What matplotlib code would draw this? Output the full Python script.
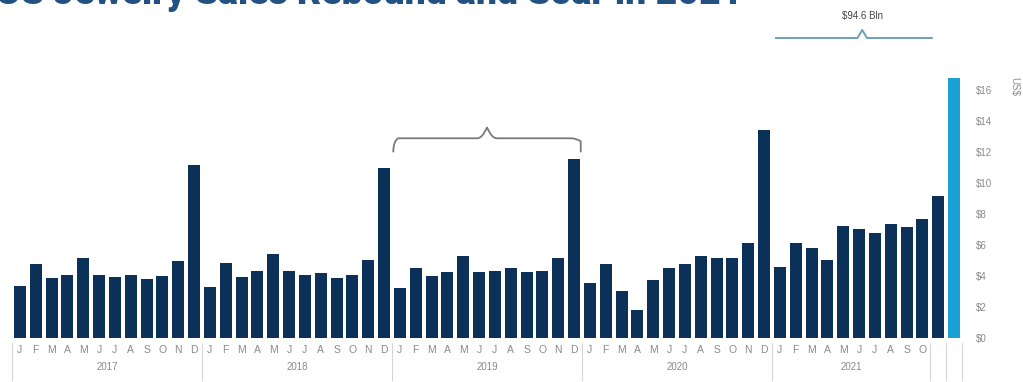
import matplotlib
matplotlib.use("Agg")
import matplotlib.pyplot as plt
from matplotlib.transforms import blended_transform_factory
from matplotlib.path import Path
from matplotlib.patches import PathPatch

# monthly US jewelry sales, US$ Bln (Jan 2017 - Oct 2021)
sales_2017 = [3.35, 4.75, 3.85, 4.1, 5.15, 4.1, 3.95, 4.1, 3.8, 4.0, 4.95, 11.2]
sales_2018 = [3.3, 4.85, 3.95, 4.3, 5.4, 4.35, 4.1, 4.2, 3.85, 4.1, 5.05, 11.0]
sales_2019 = [3.2, 4.5, 4.0, 4.25, 5.3, 4.25, 4.3, 4.5, 4.25, 4.3, 5.15, 11.55]
sales_2020 = [3.55, 4.75, 3.05, 1.8, 3.75, 4.5, 4.75, 5.3, 5.15, 5.15, 6.15, 13.45]
sales_2021 = [4.6, 6.15, 5.8, 5.05, 7.25, 7.05, 6.8, 7.35, 7.2, 7.7]
extra_bar = 9.15          # unlabeled slot after Oct 2021
total_2021 = 94.6         # highlighted total bar, off the scale
months = ["J", "F", "M", "A", "M", "J", "J", "A", "S", "O", "N", "D"]
years = ["2017", "2018", "2019", "2020", "2021"]
yticks = [0, 2, 4, 6, 8, 10, 12, 14, 16]

NAVY = "#0b3159"
BLUE = "#1aa2d6"
GREY = "#8a8a8a"

monthly = sales_2017 + sales_2018 + sales_2019 + sales_2020 + sales_2021
n = len(monthly)

fig = plt.figure(figsize=(10.23, 3.82), dpi=100)
ax = fig.add_axes([12 / 1023, 1 - 338 / 382, 950 / 1023, 260 / 382])

ax.bar(range(n), monthly, width=0.76, color=NAVY)
ax.bar([n], [extra_bar], width=0.76, color=NAVY)
ax.bar([n + 1], [total_2021], width=0.76, color=BLUE)

ax.set_xlim(-0.5, n + 1.5)
ax.set_ylim(0, 16.8)

for s in ax.spines.values():
    s.set_visible(False)

# month letters
labels = (months * 5)[:n]
ax.set_xticks(range(n))
ax.set_xticklabels(labels, fontsize=7.5, color=GREY, family="Liberation Sans")
ax.tick_params(axis="x", length=0, pad=5)

# right hand dollar axis
ax.yaxis.tick_right()
ax.set_yticks(yticks)
ax.set_yticklabels([f"${v}" for v in yticks], fontsize=7, color=GREY, family="Liberation Sans")
ax.tick_params(axis="y", length=0, pad=10)
fig.text(1014 / 1023, 1 - 77 / 382, "US$", rotation=270, ha="center", va="top",
         fontsize=7, color=GREY, family="Liberation Sans")

# year labels and separators
bt = blended_transform_factory(ax.transData, ax.transAxes)
starts = [0, 12, 24, 36, 48]
ends = [12, 24, 36, 48, n]
for yr, a, b in zip(years, starts, ends):
    ax.text((a + b) / 2 - 0.5, -0.112, yr, transform=bt, ha="center", va="center",
            fontsize=7, color=GREY, family="Liberation Sans")
for xs in [0, 12, 24, 36, 48, n, n + 1, n + 2]:
    ax.plot([xs - 0.5, xs - 0.5], [-0.02, -0.162], transform=bt, color="#d6d6d6",
            lw=0.8, clip_on=False)

# brace over 2019
dy = 16.8 / 260  # data units per pixel
x0, x1 = 24 - 0.42, 35 + 0.42
xm = (x0 + x1) / 2
yb, yh, yp = 12.0, 12.0 + 14 * dy, 12.0 + 25 * dy
verts = [(x0, yb), (x0, yh - 3 * dy), (x0 + 0.3, yh), (x0 + 0.6, yh),
         (xm - 0.6, yh), (xm - 0.3, yh), (xm, yp),
         (xm + 0.3, yh), (xm + 0.6, yh),
         (x1 - 0.6, yh), (x1 - 0.3, yh), (x1, yh - 3 * dy), (x1, yb)]
codes = [Path.MOVETO, Path.CURVE3, Path.CURVE3, Path.LINETO,
         Path.LINETO, Path.CURVE3, Path.CURVE3,
         Path.CURVE3, Path.CURVE3,
         Path.LINETO, Path.CURVE3, Path.CURVE3, Path.LINETO]
ax.add_patch(PathPatch(Path(verts, codes), fill=False, edgecolor="#7a7a7a", lw=1.3,
                       clip_on=False))

# brace over 2021 with the total
ft = blended_transform_factory(ax.transData, fig.transFigure)
bx0, bx1 = 48 - 0.25, 57 + 0.6
bm = 53.2
ly = 1 - 38 / 382
ax.plot([bx0, bm - 0.3, bm, bm + 0.3, bx1], [ly, ly, ly + 8 / 382, ly, ly],
        transform=ft, color="#6f9fbb", lw=1.4, clip_on=False)
ax.text(bm, 1 - 16 / 382, f"${total_2021} Bln", transform=ft, ha="center", va="center",
        fontsize=7, color="#444444", family="Liberation Sans")

# title, cut off at the top edge like the source
title = fig.text(742 / 1023, 1 - 3.5 / 382, "US Jewelry Sales Rebound and Soar in 2021",
                 ha="right", va="baseline", fontsize=26, fontweight="heavy",
                 color="#235282", family="Roboto")
fig.canvas.draw()
w = title.get_window_extent().width
title.set_fontsize(26 * 747 / w)

fig.savefig("out.png", dpi=100)
